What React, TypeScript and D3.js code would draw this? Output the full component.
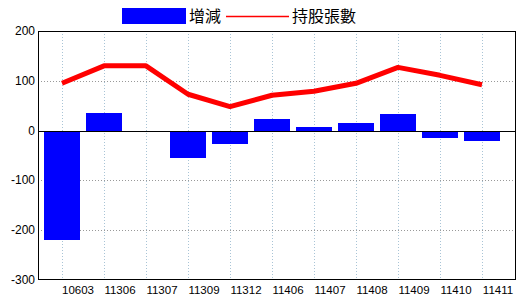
import React from "react";
import * as d3 from "d3";

const categories = ["10603", "11306", "11307", "11309", "11312", "11406", "11407", "11408", "11409", "11410", "11411"];
const changeValues = [-220, 36, 0, -55, -26, 23, 7, 15, 33, -14, -20];
const holdingValues = [95, 130, 130, 73, 48, 71, 79, 95, 127, 111, 92];
const yTicks = [200, 100, 0, -100, -200, -300];
const legendLabels = ["增減", "持股張數"];

export default function App() {
  const W = 520, H = 300;
  const left = 38, right = 516, top = 31, bottom = 280;
  const y = d3.scaleLinear().domain([-300, 200]).range([bottom, top]);
  const x = d3.scalePoint<string>().domain(categories).range([62, 482]);
  const barW = 36;
  const line = d3.line<number>().x((_, i) => x(categories[i])!).y((v) => y(v));
  const font = "'Liberation Sans', Arial, sans-serif";
  const cjk = "'Noto Sans CJK TC', 'Noto Sans CJK SC', sans-serif";
  return (
    <svg width={W} height={H} style={{ position: "absolute", left: 0, top: 0, background: "#fff" }}>
      <rect x={0} y={0} width={W} height={H} fill="#fff" />
      {/* vertical grid */}
      {categories.map((c) => (
        <line key={c} x1={x(c)! + 0.5} x2={x(c)! + 0.5} y1={top} y2={bottom} stroke="#a9c4d6" strokeDasharray="1,2" shapeRendering="crispEdges" />
      ))}
      {/* horizontal grid */}
      {yTicks.filter((t) => t !== 0 && t !== 200 && t !== -300).map((t) => (
        <line key={t} x1={left} x2={right} y1={Math.round(y(t)) + 0.5} y2={Math.round(y(t)) + 0.5} stroke="#999" strokeDasharray="1,2" shapeRendering="crispEdges" />
      ))}
      {/* bars */}
      {changeValues.map((v, i) => (
        <rect key={i} x={x(categories[i])! - barW / 2} width={barW} y={Math.min(y(v), y(0))} height={Math.abs(y(v) - y(0))} fill="#0000ff" shapeRendering="crispEdges" />
      ))}
      {/* zero line */}
      <line x1={left} x2={right} y1={Math.round(y(0)) + 0.5} y2={Math.round(y(0)) + 0.5} stroke="#000" strokeWidth={1.5} shapeRendering="crispEdges" />
      {/* line series */}
      <path d={line(holdingValues)!} fill="none" stroke="#ff0000" strokeWidth={5} strokeLinejoin="bevel" strokeLinecap="butt" />
      {/* frame */}
      <rect x={left + 0.5} y={top + 0.5} width={right - left - 1} height={bottom - top - 1} fill="none" stroke="#000" strokeWidth={1.5} shapeRendering="crispEdges" />
      {/* y ticks */}
      {yTicks.map((t) => (
        <text key={t} x={35} y={y(t) + 4} textAnchor="end" fontFamily={font} fontSize={12} fill="#000">{t}</text>
      ))}
      {/* x labels */}
      {categories.map((c) => (
        <text key={c} x={x(c)! + 16} y={294} textAnchor="middle" fontFamily={font} fontSize={11.5} fill="#000">{c}</text>
      ))}
      {/* legend */}
      <rect x={122} y={8} width={64} height={16} fill="#0000ff" />
      <text x={189} y={22} fontFamily={cjk} fontSize={16} fill="#000">{legendLabels[0]}</text>
      <line x1={226} x2={289} y1={16.5} y2={16.5} stroke="#ff0000" strokeWidth={1.5} />
      <text x={292} y={22} fontFamily={cjk} fontSize={16} fill="#000">{legendLabels[1]}</text>
    </svg>
  );
}
